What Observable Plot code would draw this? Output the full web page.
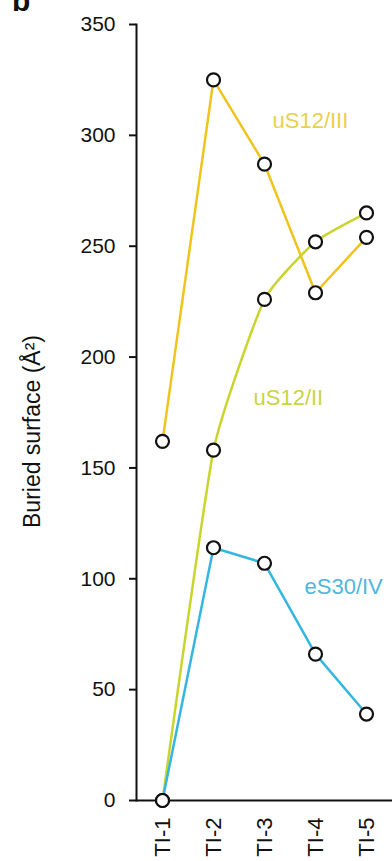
<!DOCTYPE html>
<html>
<head>
<meta charset="utf-8">
<script src="https://cdn.jsdelivr.net/npm/d3@7"></script>
<script src="https://cdn.jsdelivr.net/npm/@observablehq/plot@0.6"></script>
<style>
  html, body { margin: 0; padding: 0; background: #fff; }
  #wrap { position: relative; width: 392px; height: 861px; overflow: hidden; }
  #panel { position: absolute; left: 12px; top: -16px; font: bold 30px "Liberation Sans", Arial, sans-serif; color: #111; }
</style>
</head>
<body>
<div id="wrap"><div id="panel">b</div></div>
<script>
const categories = ["TI-1", "TI-2", "TI-3", "TI-4", "TI-5"];
const seriesNames = ["uS12/III", "uS12/II", "eS30/IV"];
const uS12_III = [162, 325, 287, 229, 254];
const uS12_II = [0, 158, 226, 252, 265];
const eS30_IV = [0, 114, 107, 66, 39];
const yTicks = [0, 50, 100, 150, 200, 250, 300, 350];
const yTitle = "Buried surface (Å²)";

const lineColors = {"uS12/III": "#efc41c", "uS12/II": "#c9d42c", "eS30/IV": "#35b6e0"};
const labelColors = {"uS12/III": "#e9d04c", "uS12/II": "#c8d443", "eS30/IV": "#4cb7dc"};

const values = [uS12_III, uS12_II, eS30_IV];
const rows = [];
seriesNames.forEach((s, i) => categories.forEach((c, j) => rows.push({series: s, cat: c, value: values[i][j]})));
const bySeries = s => rows.filter(d => d.series === s);
const pick = (s, c) => rows.filter(d => d.series === s && d.cat === c);

const font = "'Liberation Sans', Arial, Helvetica, sans-serif";

const chart = Plot.plot({
  width: 392,
  height: 861,
  marginLeft: 136,
  marginRight: 0,
  marginTop: 24,
  marginBottom: 61,
  style: {fontFamily: font, background: "transparent", color: "#111"},
  x: {type: "point", domain: categories, padding: 0.5},
  y: {domain: [0, 350]},
  marks: [
    Plot.axisY({ticks: yTicks, tickSize: 7, tickPadding: 14, fontSize: 21, strokeWidth: 2, label: null}),
    Plot.axisX({tickSize: 0, tickRotate: -90, tickPadding: 17, fontSize: 22, label: null}),
    Plot.frame({anchor: "left", strokeWidth: 2, stroke: "#111"}),
    Plot.ruleY([0], {strokeWidth: 2, stroke: "#111"}),
    Plot.line(bySeries("uS12/III"), {x: "cat", y: "value", stroke: lineColors["uS12/III"], strokeWidth: 2.5}),
    Plot.line(bySeries("uS12/II"), {x: "cat", y: "value", stroke: lineColors["uS12/II"], strokeWidth: 2.5, curve: "cardinal", tension: 0.55}),
    Plot.line(bySeries("eS30/IV"), {x: "cat", y: "value", stroke: lineColors["eS30/IV"], strokeWidth: 2.5}),
    Plot.dot(rows, {x: "cat", y: "value", r: 6.5, fill: "white", stroke: "#111", strokeWidth: 2.2}),
    Plot.text(pick("uS12/III", "TI-3"), {x: "cat", y: "value", text: "series", fill: labelColors["uS12/III"], fontSize: 22, textAnchor: "start", dx: 8, dy: -43}),
    Plot.text(pick("uS12/II", "TI-2"), {x: "cat", y: "value", text: "series", fill: labelColors["uS12/II"], fontSize: 22, textAnchor: "start", dx: 40, dy: -52}),
    Plot.text(pick("eS30/IV", "TI-3"), {x: "cat", y: "value", text: "series", fill: labelColors["eS30/IV"], fontSize: 22, textAnchor: "start", dx: 40, dy: 24}),
    Plot.text([yTitle], {frameAnchor: "left", text: d => d, rotate: -90, fontSize: 23, textAnchor: "middle", dx: -104, dy: 19, fill: "#111"})
  ]
});
chart.style.position = "absolute";
chart.style.left = "0";
chart.style.top = "0";
document.getElementById("wrap").appendChild(chart);
</script>
</body>
</html>
